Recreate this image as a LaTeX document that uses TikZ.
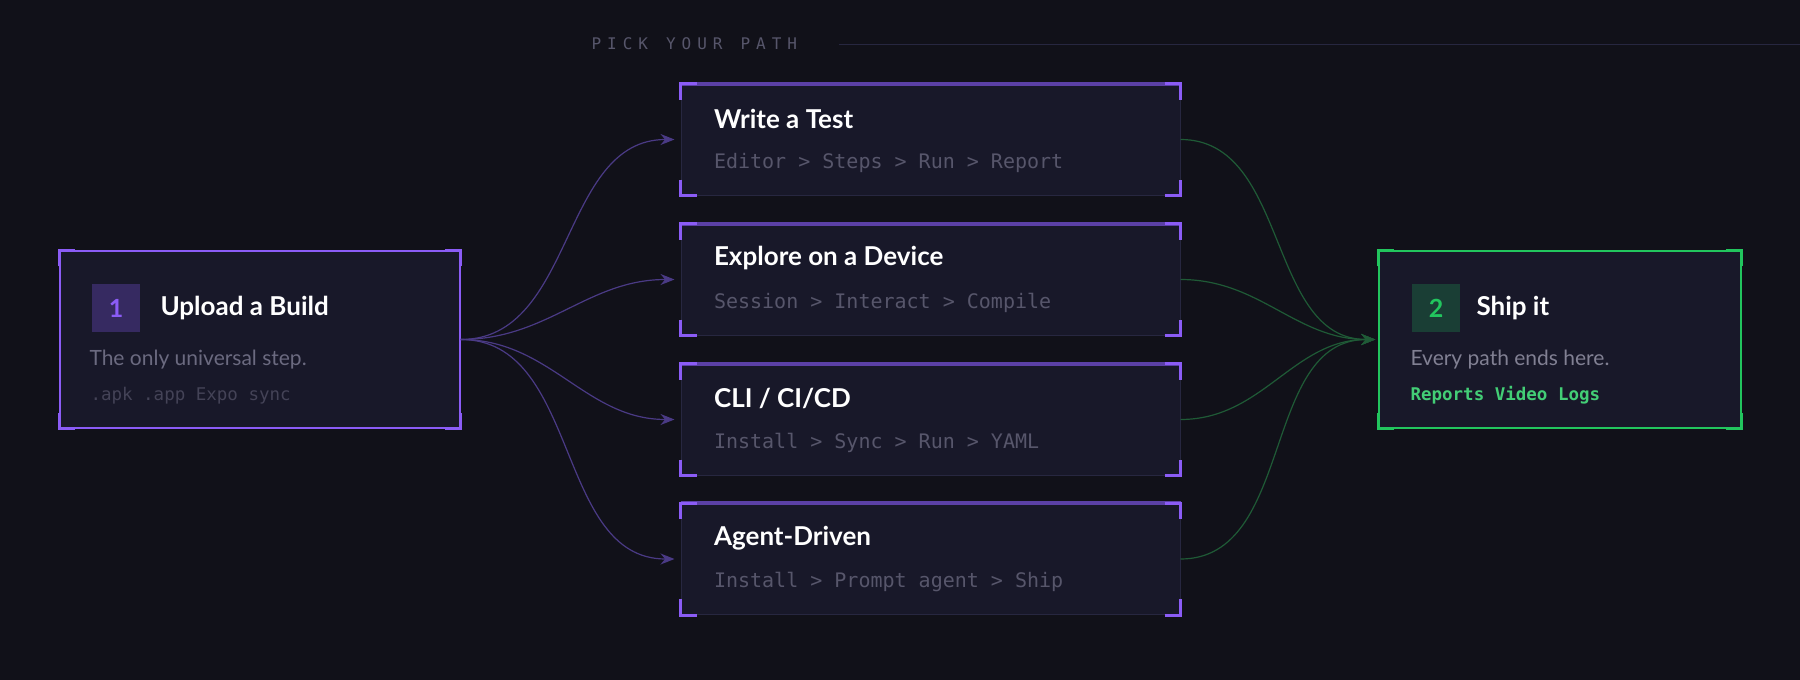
\documentclass[tikz,border=0pt]{standalone}
\usepackage{fontspec}
\setmainfont{Lato}
\setmonofont{DejaVu Sans Mono}
\usetikzlibrary{positioning,arrows.meta}
\definecolor{bgcol}{HTML}{111119}
\definecolor{boxcol}{HTML}{181829}
\definecolor{edgecol}{HTML}{272740}
\definecolor{violet}{HTML}{8B5CF6}
\definecolor{violetdim}{HTML}{5B40A6}
\definecolor{violetwire}{HTML}{4A3A85}
\definecolor{greenc}{HTML}{22C55E}
\definecolor{greenwire}{HTML}{1F5A36}
\definecolor{mutedtxt}{HTML}{6B6A80}
\definecolor{subtxt}{HTML}{57566B}
\newcommand\corners[2]{%
  \draw[#2,line width=3pt]
    ([yshift=-16pt]#1.north west) -- (#1.north west) -- ([xshift=16pt]#1.north west)
    ([xshift=-16pt]#1.north east) -- (#1.north east) -- ([yshift=-16pt]#1.north east)
    ([yshift=16pt]#1.south west) -- (#1.south west) -- ([xshift=16pt]#1.south west)
    ([xshift=-16pt]#1.south east) -- (#1.south east) -- ([yshift=16pt]#1.south east);}
\begin{document}
\begin{tikzpicture}[x=1pt,y=-1pt,
    box/.style={rectangle,fill=boxcol,inner sep=0pt},
    pathbox/.style={box,draw=edgecol,line width=1pt,minimum width=499pt,minimum height=111pt},
    head/.style={anchor=west,text=white,font=\bfseries\fontsize{26}{30}\selectfont},
    sub/.style={anchor=west,text=subtxt,font=\ttfamily\fontsize{20}{24}\selectfont},
    badge/.style={minimum size=48pt,inner sep=0pt,font=\bfseries\fontsize{25}{30}\selectfont},
    wire/.style={line width=1.2pt,-{Stealth[length=14pt,width=11pt]}}]
  \fill[bgcol] (0,0) rectangle (1800,680);
  \useasboundingbox (0,0) rectangle (1800,680);
  % header
  \node (pick) [anchor=west,text=subtxt,font=\ttfamily\fontsize{16}{19}\selectfont] at (588,44) {P\kern6pt I\kern6pt C\kern6pt K\kern18pt Y\kern6pt O\kern6pt U\kern6pt R\kern18pt P\kern6pt A\kern6pt T\kern6pt H};
  \coordinate (rule) at (1800,44);
  \draw[edgecol,line width=1pt] ([xshift=38pt]pick.east) -- (rule);
  % start box
  \node (upload) [box,draw=violet,line width=1.5pt,minimum width=400pt,minimum height=177pt] at (260,339.5) {};
  \corners{upload}{violet}
  \node (one) [badge,fill=violetdim!45!boxcol,text=violet] at (116,308) {1};
  \node (uploadhead) [head] at (157,308) {Upload a Build};
  \node (uploadtxt) [anchor=west,text=mutedtxt,font=\fontsize{21}{24}\selectfont] at (86,360) {The only universal step.};
  \node (uploadsub) [anchor=west,text=subtxt!70!boxcol,font=\ttfamily\fontsize{17.5}{20}\selectfont] at (87,396) {.apk .app Expo sync};
  % end box
  \node (ship) [box,draw=greenc,line width=1.5pt,minimum width=362pt,minimum height=177pt] at (1560,339.5) {};
  \corners{ship}{greenc}
  \node (two) [badge,fill=greenc!22!boxcol,text=greenc] at (1436,308) {2};
  \node (shiphead) [head] at (1473,308) {Ship it};
  \node (shiptxt) [anchor=west,text=mutedtxt!85!white,font=\fontsize{21}{24}\selectfont] at (1407,360) {Every path ends here.};
  \node (shipsub) [anchor=west,text=greenc!85!white,font=\ttfamily\bfseries\fontsize{17.5}{20}\selectfont] at (1407,395) {Reports Video Logs};
  % paths
  \foreach \name/\yy/\title/\steps in {
      write/139.5/{Write a Test}/{Editor > Steps > Run > Report},
      explore/279.5/{Explore on a Device}/{Session > Interact > Compile},
      cli/419.5/{CLI / CI/CD}/{Install > Sync > Run > YAML},
      agent/559/{Agent-Driven}/{Install > Prompt agent > Ship}} {
    \node (\name) [pathbox] at (930.5,\yy) {};
    \draw[violetdim,line width=4pt] (\name.north west) -- (\name.north east);
    \corners{\name}{violet}
    \node [head] at ([xshift=30pt,yshift=21pt]\name.west) {\title};
    \node [sub] at ([xshift=30pt,yshift=-23pt]\name.west) {\steps};
    \draw[wire,violetwire] (upload.east) to[out=0,in=180] ([xshift=-6pt]\name.west);
    \draw[wire,greenwire] (\name.east) to[out=0,in=180] ([xshift=-3pt]ship.west);
  }
\end{tikzpicture}
\end{document}
